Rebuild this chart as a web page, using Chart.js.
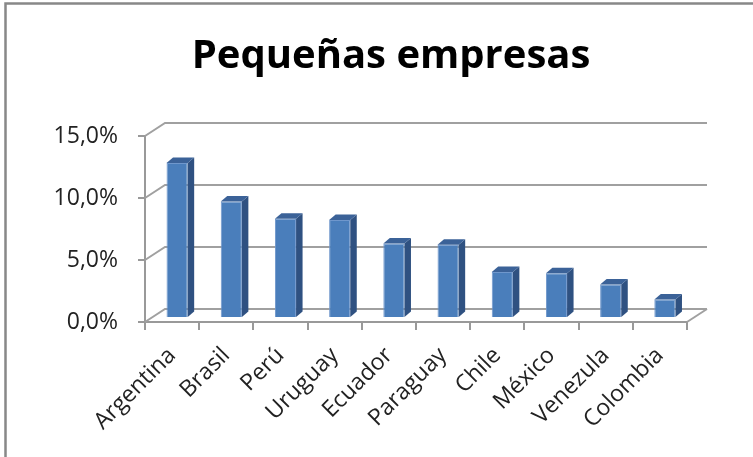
<!DOCTYPE html>
<html>
<head>
<meta charset="utf-8">
<script src="https://cdn.jsdelivr.net/npm/chart.js@4/dist/chart.umd.min.js"></script>
<style>
  html, body { margin: 0; padding: 0; background: #fff; }
  #wrap { width: 753px; height: 457px; position: relative; }
</style>
</head>
<body>
<div id="wrap"><canvas id="c" width="753" height="457"></canvas></div>
<script>
const titleText = 'Pequeñas empresas';
const categories = ['Argentina', 'Brasil', 'Perú', 'Uruguay', 'Ecuador', 'Paraguay', 'Chile', 'México', 'Venezula', 'Colombia'];
const values = [12.5, 9.4, 8.0, 7.9, 6.0, 5.9, 3.7, 3.6, 2.7, 1.5];
const yTickValues = [0, 5, 10, 15];

const wallDepth = { dx: 20, dy: -13 };
const barShift = { dx: 5, dy: -4 };
const barDepth = { dx: 6.5, dy: -5.5 };
const wallColor = '#a0a0a0';
const frontColor = '#4a7ebb';
const sideColor = '#2f5181';
const topColor = '#3b6298';

const fmt = v => v.toFixed(1).replace('.', ',') + '%';

const threeD = {
  id: 'threeD',
  beforeDraw(chart) {
    const ctx = chart.ctx;
    ctx.save();
    ctx.fillStyle = '#fff';
    ctx.fillRect(0, 0, chart.width, chart.height);
    ctx.strokeStyle = '#888';
    ctx.lineWidth = 2.5;
    ctx.strokeRect(5.5, 3.5, chart.width + 50, chart.height + 50);
    ctx.restore();
  },
  beforeDatasetsDraw(chart) {
    const ctx = chart.ctx;
    const { left, right } = chart.chartArea;
    const y = chart.scales.y;
    ctx.save();
    ctx.strokeStyle = wallColor;
    ctx.lineWidth = 2;
    yTickValues.forEach(v => {
      const py = y.getPixelForValue(v);
      ctx.beginPath();
      ctx.moveTo(left, py);
      ctx.lineTo(left + wallDepth.dx, py + wallDepth.dy);
      ctx.lineTo(right + wallDepth.dx, py + wallDepth.dy);
      ctx.stroke();
    });
    const p0 = y.getPixelForValue(0);
    ctx.beginPath();
    ctx.moveTo(right, p0);
    ctx.lineTo(right + wallDepth.dx, p0 + wallDepth.dy);
    ctx.stroke();
    ctx.restore();
    ctx.save();
    ctx.translate(barShift.dx, barShift.dy);
  },
  afterDatasetsDraw(chart) {
    const ctx = chart.ctx;
    const meta = chart.getDatasetMeta(0);
    meta.data.forEach(bar => {
      const p = bar.getProps(['x', 'y', 'base', 'width'], true);
      const l = p.x - p.width / 2, r = p.x + p.width / 2;
      ctx.fillStyle = sideColor;
      ctx.beginPath();
      ctx.moveTo(r, p.y);
      ctx.lineTo(r + barDepth.dx, p.y + barDepth.dy);
      ctx.lineTo(r + barDepth.dx, p.base + barDepth.dy);
      ctx.lineTo(r, p.base);
      ctx.closePath();
      ctx.fill();
      ctx.fillStyle = topColor;
      ctx.beginPath();
      ctx.moveTo(l, p.y);
      ctx.lineTo(r, p.y);
      ctx.lineTo(r + barDepth.dx, p.y + barDepth.dy);
      ctx.lineTo(l + barDepth.dx, p.y + barDepth.dy);
      ctx.closePath();
      ctx.fill();
    });
    ctx.restore();
  }
};

new Chart(document.getElementById('c'), {
  type: 'bar',
  data: {
    labels: categories,
    datasets: [{
      data: values,
      backgroundColor: frontColor,
      borderColor: '#6f97cc',
      borderWidth: 1,
      barPercentage: 0.39,
      categoryPercentage: 1,
      clip: false
    }]
  },
  options: {
    responsive: false,
    animation: false,
    devicePixelRatio: 1,
    layout: { padding: { left: 30, right: 1, top: 0, bottom: 0 } },
    plugins: {
      legend: { display: false },
      tooltip: { enabled: false },
      title: {
        display: true,
        text: titleText,
        color: '#000',
        font: { family: 'Open Sans', size: 40, weight: 'bold' },
        padding: { top: 33, bottom: 55 }
      }
    },
    scales: {
      y: {
        min: 0, max: 15,
        afterFit(scale) { scale.width = 115; },
        ticks: {
          stepSize: 5,
          padding: 20,
          color: '#222',
          font: { family: 'Open Sans', size: 23 },
          callback: v => fmt(v)
        },
        grid: { drawOnChartArea: false, drawTicks: true, tickLength: 7, color: '#999', lineWidth: 2 },
        border: { display: true, color: '#999', width: 2 }
      },
      yRight: {
        type: 'linear',
        position: 'right',
        afterFit(scale) { scale.width = 65; },
        ticks: { display: false },
        grid: { display: false },
        border: { display: false }
      },
      x: {
        afterFit(scale) { scale.height = 135; },
        ticks: {
          minRotation: 45, maxRotation: 45,
          padding: 12,
          color: '#222',
          font: { family: 'Open Sans', size: 23 }
        },
        grid: { offset: true, drawOnChartArea: false, drawTicks: true, tickLength: 8, color: '#999', lineWidth: 2 },
        border: { display: true, color: '#999', width: 2 }
      }
    }
  },
  plugins: [threeD]
});
</script>
</body>
</html>
